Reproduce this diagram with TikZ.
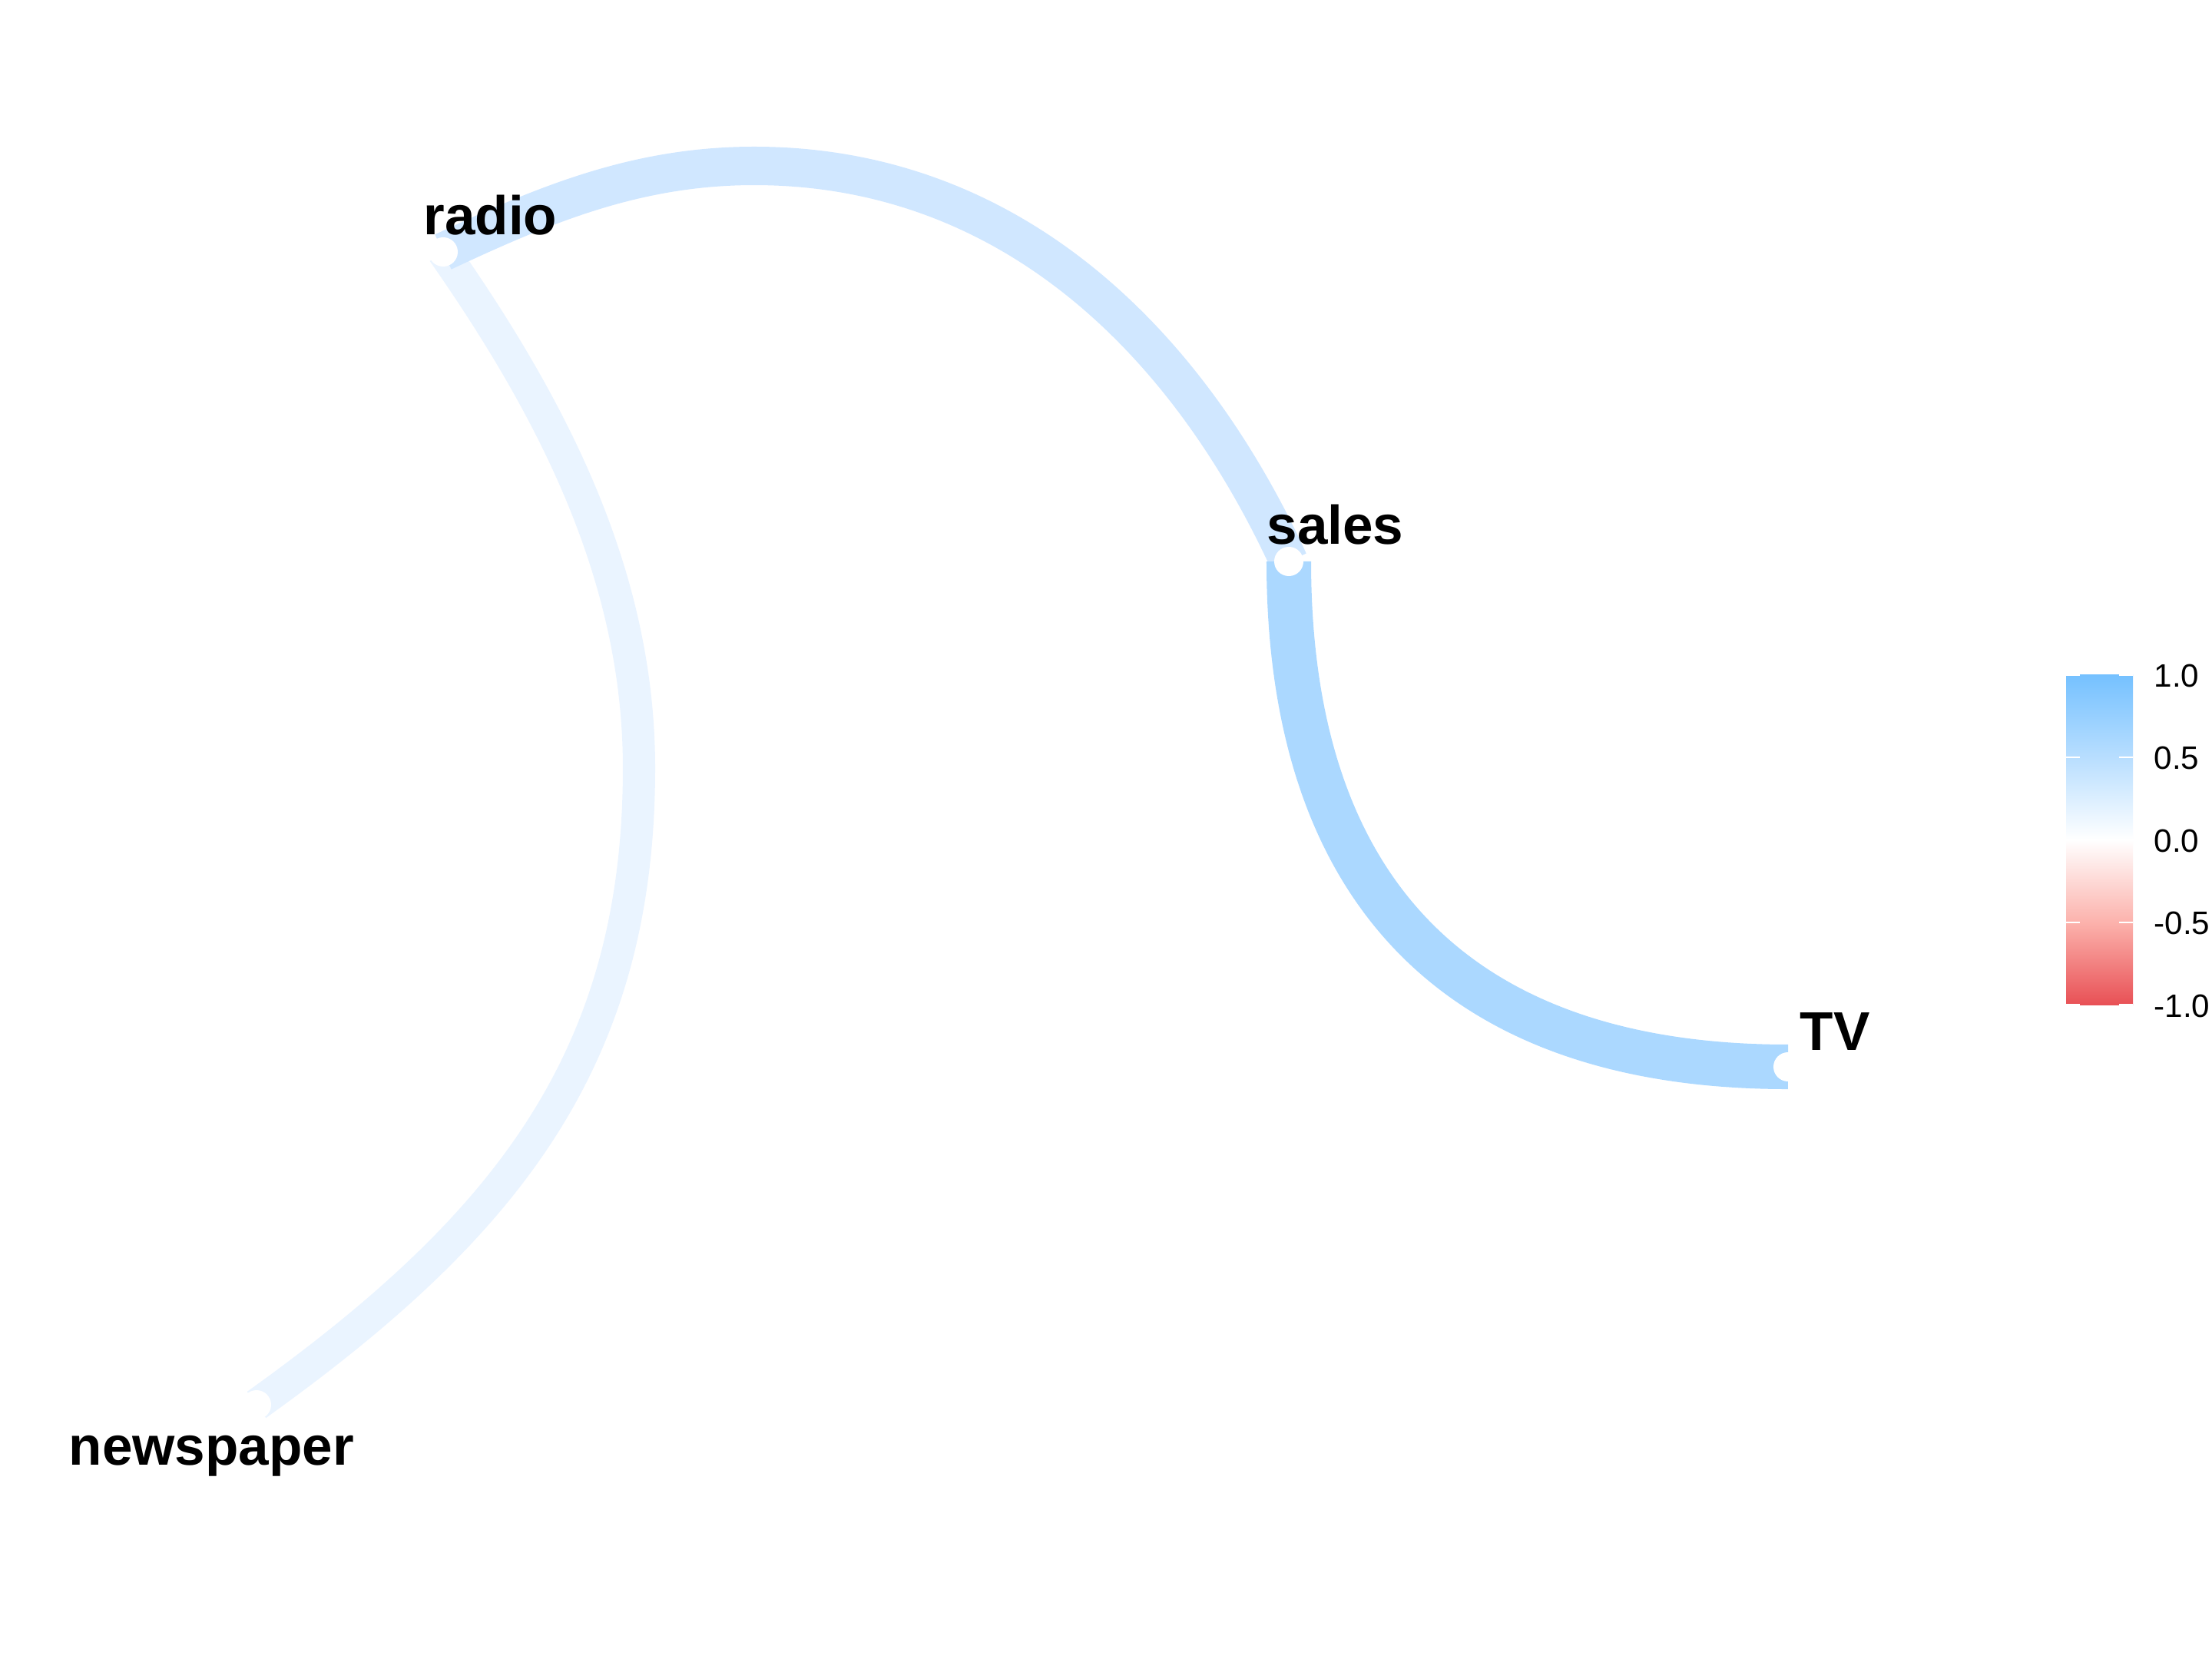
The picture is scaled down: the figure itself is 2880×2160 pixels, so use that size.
\documentclass[tikz,border=0pt]{standalone}
\usepackage{fontspec}
\setmainfont{Liberation Sans}
\definecolor{edgeTV}{RGB}{171,216,255}
\definecolor{edgeRS}{RGB}{208,231,255}
\definecolor{edgeRN}{RGB}{234,244,255}
\definecolor{legA}{RGB}{232,80,85}
\definecolor{legB}{RGB}{252,178,172}
\definecolor{legD}{RGB}{184,222,255}
\definecolor{legE}{RGB}{117,193,255}
\pgfdeclareverticalshading{corrbar}{100bp}{color(0bp)=(legA); color(25bp)=(legA); color(37.5bp)=(legB); color(50bp)=(white); color(62.5bp)=(legD); color(75bp)=(legE); color(100bp)=(legE)}
\begin{document}
\begin{tikzpicture}[x=0.01cm,y=-0.01cm,
  vertex/.style={circle,fill=white,draw=none,minimum size=0.38cm,inner sep=0pt},
  varlabel/.style={anchor=base west,inner sep=0pt,font=\fontsize{20.2pt}{24pt}\selectfont\bfseries},
  ticklabel/.style={anchor=base west,inner sep=0pt,font=\fontsize{12pt}{14pt}\selectfont},
  edgeline/.style={line cap=butt,line join=round}]
\fill[white] (0,0) rectangle (2880,2160);
\useasboundingbox (0,0) rectangle (2880,2160);
% node positions
\coordinate (radio) at (577,328);
\coordinate (sales) at (1678,731);
\coordinate (tv) at (2328,1389);
\coordinate (newspaper) at (334,1829);
\coordinate (rn-mid) at (832,1000);
\coordinate (rs-mid) at (982,216);
% edges
\draw[edgeline,edgeRN,line width=0.42cm] (radio) .. controls +(143,205) and +(0,-250) .. (rn-mid)
  .. controls +(0,380) and +(324,-232) .. (newspaper);
\draw[edgeline,edgeRS,line width=0.50cm] (radio) .. controls +(136,-64) and +(-150,0) .. (rs-mid)
  .. controls +(330,0) and +(-134,-291) .. (sales);
\draw[edgeline,edgeTV,line width=0.58cm] (sales) .. controls +(0,432) and +(-427,0) .. (tv);
% vertices
\node[vertex] (radio-dot) at (radio) {};
\node[vertex] (sales-dot) at (sales) {};
\node[vertex] (tv-dot) at (tv) {};
\node[vertex] (newspaper-dot) at (newspaper) {};
% labels
\node[varlabel] (radio-lab) at (551,305) {radio};
\node[varlabel] (sales-lab) at (1649,708) {sales};
\node[varlabel] (tv-lab) at (2343,1367) {TV};
\node[varlabel] (newspaper-lab) at (89,1907) {newspaper};
% legend
\shade[shading=corrbar] (2690,878.5) rectangle (2777,1308.5);
\foreach \yy in {878.5,986,1093.5,1201,1308.5}{
  \draw[white,line width=0.6pt] (2690,\yy) -- (2708,\yy);
  \draw[white,line width=0.6pt] (2759,\yy) -- (2777,\yy);
}
\node[ticklabel] (l1) at (2804,894) {1.0};
\node[ticklabel] (l2) at (2804,1001.5) {0.5};
\node[ticklabel] (l3) at (2804,1109) {0.0};
\node[ticklabel] (l4) at (2804,1216.5) {-0.5};
\node[ticklabel] (l5) at (2804,1324) {-1.0};
\end{tikzpicture}
\end{document}
